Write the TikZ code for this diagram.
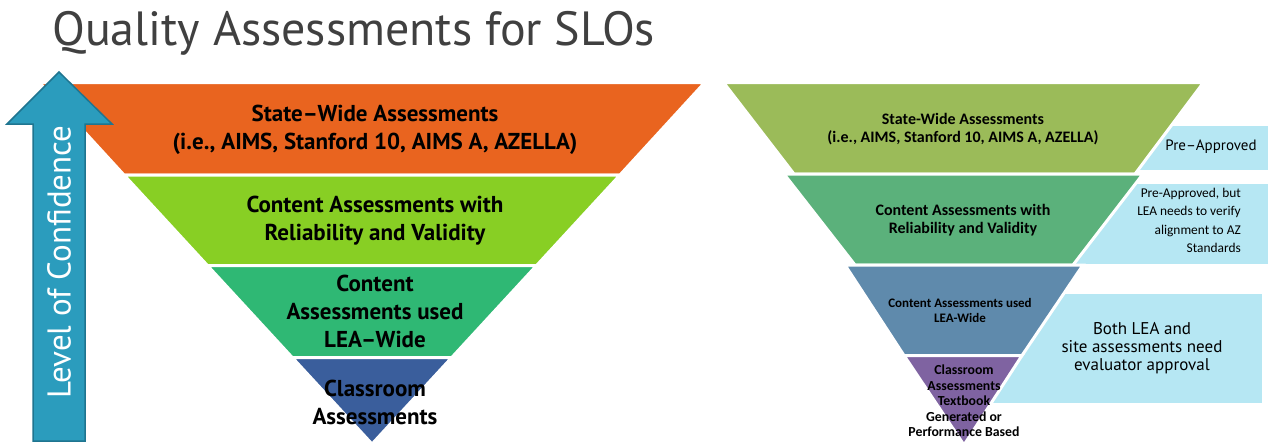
\documentclass[tikz,border=0pt]{standalone}
\usepackage{fontspec}
\setmainfont{PT Sans}
\newfontfamily\calibrifont{Carlito}

\definecolor{titlegray}{HTML}{404040}
\definecolor{arrowteal}{HTML}{2B9CBD}
\definecolor{arrowedge}{HTML}{1F7590}
\definecolor{stateorange}{HTML}{E9641F}
\definecolor{reliablelime}{HTML}{88CF24}
\definecolor{leagreen}{HTML}{2FB874}
\definecolor{classblue}{HTML}{3A5E9C}
\definecolor{stateolive}{HTML}{9BBB59}
\definecolor{reliablegreen}{HTML}{5BB17B}
\definecolor{leasteel}{HTML}{5F8AAC}
\definecolor{classpurple}{HTML}{7F63A1}
\definecolor{notecyan}{HTML}{B6E7F3}

\begin{document}
\begin{tikzpicture}[x=1pt,y=-1pt,
    layer/.style={draw=white,line width=3pt,line join=miter},
    lefttext/.style={align=center,font=\bfseries\fontsize{23}{28}\selectfont},
    rightbold/.style={align=center,font=\calibrifont\bfseries\fontsize{16}{18}\selectfont},
    rightsmall/.style={align=center,font=\calibrifont\bfseries\fontsize{13}{15}\selectfont},
    rightclass/.style={align=center,font=\calibrifont\bfseries\fontsize{13.8}{15.5}\selectfont}]
    \useasboundingbox (0,0) rectangle (1268,444);

    \node[anchor=base west,inner sep=0,text=titlegray,font=\fontsize{48}{52}\selectfont] (title) at (52,46) {Quality Assessments for SLOs};

    \path[layer,fill=stateorange] (39.2,82.5) -- (704.8,82.5) -- (620,175) -- (124,175) -- cycle;
    \path[layer,fill=reliablelime] (124,175) -- (620,175) -- (536.6,265.5) -- (207.4,265.5) -- cycle;
    \path[layer,fill=leagreen] (207.4,265.5) -- (536.6,265.5) -- (451.8,357.5) -- (292.2,357.5) -- cycle;
    \path[layer,fill=classblue] (292.2,357.5) -- (451.8,357.5) -- (372,444) -- cycle;

    \node[lefttext] (lstate) at (375,130) {State–Wide Assessments\\(i.e., AIMS, Stanford 10, AIMS A, AZELLA)};
    \node[lefttext] (lcontent) at (375,221) {Content Assessments with\\Reliability and Validity};
    \node[lefttext] (llea) at (375,311) {Content\\Assessments used\\LEA–Wide};
    \node[lefttext] (lclass) at (375,402) {Classroom\\Assessments};

    \draw[fill=arrowteal,draw=arrowedge,line width=1.5pt,line join=miter]
        (33,441) -- (33,124) -- (7,124) -- (59,72) -- (112,124) -- (85,124) -- (85,441) -- cycle;
    \node[rotate=90,text=white,font=\fontsize{33}{38}\selectfont] (confidence) at (59,262) {Level of Confidence};

    \fill[notecyan] (1110,126) rectangle (1268,170);
    \fill[notecyan] (1040,184) rectangle (1268,264);
    \fill[notecyan] (985,294) rectangle (1262,403);

    \path[layer,fill=stateolive] (723.5,82.5) -- (1203.5,82.5) -- (1135,174) -- (794,174) -- cycle;
    \path[layer,fill=reliablegreen] (784,174) -- (1143,174) -- (1073,265) -- (855,265) -- cycle;
    \path[layer,fill=leasteel] (845,265) -- (1083,265) -- (1022,355.5) -- (904,355.5) -- cycle;
    \path[layer,fill=classpurple] (904,355.5) -- (1022,355.5) -- (964,445) -- cycle;

    \node[rightbold] (rstate) at (963,129) {State-Wide Assessments\\(i.e., AIMS, Stanford 10, AIMS A, AZELLA)};
    \node[rightbold] (rcontent) at (963,220) {Content Assessments with\\Reliability and Validity};
    \node[rightsmall] (rlea) at (960,310.5) {Content Assessments used\\LEA-Wide};
    \node[rightclass] (rclass) at (964,401) {Classroom\\Assessments\\Textbook\\Generated or\\Performance Based};

    \node[font=\fontsize{15}{18}\selectfont] (preapproved) at (1211,147) {Pre–Approved};
    \node[anchor=east,inner sep=0,align=right,font=\calibrifont\fontsize{13.4}{18.5}\selectfont] (verify) at (1241,220.5) {Pre-Approved, but\\LEA needs to verify\\alignment to AZ\\Standards};
    \node[align=center,font=\fontsize{17}{18}\selectfont] (evaluator) at (1142,348) {Both LEA and\\site assessments need\\evaluator approval};
\end{tikzpicture}
\end{document}
